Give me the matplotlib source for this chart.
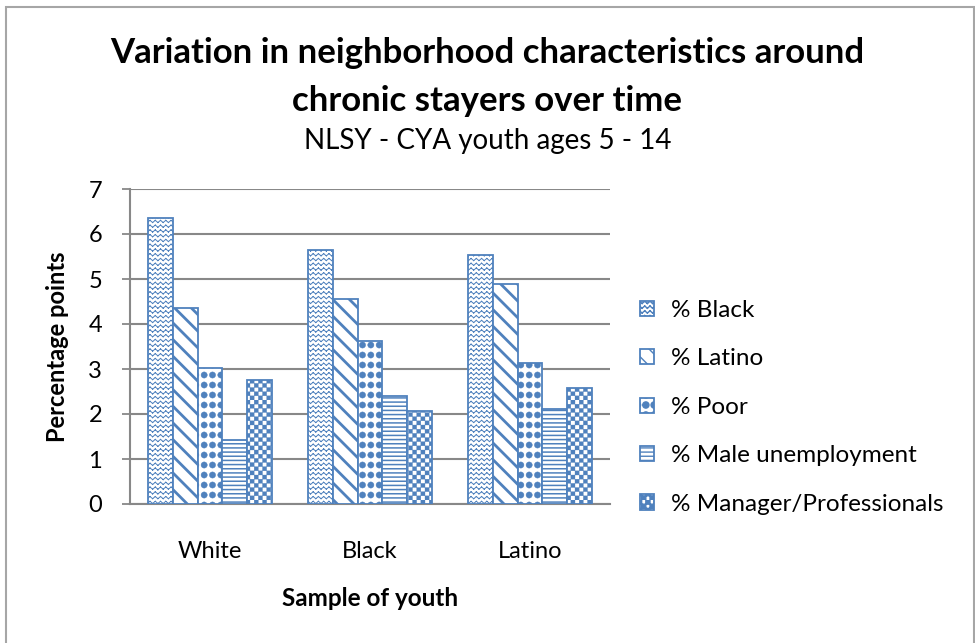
import warnings
import numpy as np
import matplotlib
matplotlib.use("Agg")
import matplotlib.pyplot as plt
import matplotlib.hatch as mhatch
from matplotlib.path import Path
from matplotlib.patches import Rectangle

warnings.filterwarnings("ignore", message="hatch must consist")

# Data: mean variation (percentage points) by youth sample
samples = ["White", "Black", "Latino"]
series = ["% Black", "% Latino", "% Poor", "% Male unemployment", "% Manager/Professionals"]
pct_black = [6.36, 5.64, 5.53]
pct_latino = [4.36, 4.55, 4.89]
pct_poor = [3.03, 3.62, 3.14]
pct_male_unemp = [1.42, 2.40, 2.11]
pct_manager = [2.76, 2.07, 2.57]
values = [pct_black, pct_latino, pct_poor, pct_male_unemp, pct_manager]

BLUE = "#4F81BD"


# extra fill patterns (zigzag, dots, checkerboard) hooked into matplotlib's hatch machinery
class ZigzagHatch:
    def __init__(self, hatch, density):
        self.rows = 21 if "z" in hatch else 0
        self.waves = 19
        self.num_vertices = self.rows * self.waves * 4

    def set_vertices_and_codes(self, vertices, codes):
        xs = np.linspace(0, 1, 2 * self.waves + 1)
        amp = 0.011
        k = 0
        for i in range(self.rows):
            y0 = (i + 0.5) / self.rows
            ys = y0 + amp * np.where(np.arange(len(xs)) % 2 == 0, -1, 1)
            for j in range(len(xs) - 1):
                vertices[k] = xs[j], ys[j]
                vertices[k + 1] = xs[j + 1], ys[j + 1]
                codes[k] = Path.MOVETO
                codes[k + 1] = Path.LINETO
                k += 2


class DotHatch:
    def __init__(self, hatch, density):
        self.circle = Path.unit_circle()
        self.cols, self.rows = (12, 10) if "p" in hatch else (0, 0)
        self.num_vertices = self.cols * self.rows * len(self.circle.vertices)

    def set_vertices_and_codes(self, vertices, codes):
        n = len(self.circle.vertices)
        k = 0
        for i in range(self.rows):
            for j in range(self.cols):
                cx = (j + 0.5) / self.cols
                cy = (i + 0.5) / self.rows
                vertices[k:k + n] = self.circle.vertices * 0.031 + (cx, cy)
                codes[k:k + n] = self.circle.codes
                k += n


class CheckerHatch:
    def __init__(self, hatch, density):
        self.n = 24 if "c" in hatch else 0
        self.num_vertices = self.n * self.n // 2 * 5

    def set_vertices_and_codes(self, vertices, codes):
        s = 1.0 / self.n
        k = 0
        for i in range(self.n):
            for j in range(self.n):
                if (i + j) % 2:
                    continue
                x, y = j * s, i * s
                vertices[k:k + 5] = [(x, y), (x + s, y), (x + s, y + s), (x, y + s), (x, y)]
                codes[k:k + 5] = [Path.MOVETO, Path.LINETO, Path.LINETO, Path.LINETO, Path.CLOSEPOLY]
                k += 5


mhatch._hatch_types.extend([ZigzagHatch, DotHatch, CheckerHatch])

hatches = ["z", "\\\\", "p", "----", "c"]
hatch_lw = [0.7, 2.0, 0.3, 1.1, 0.2]

plt.rcParams["font.family"] = ["Lato", "DejaVu Sans"]

fig = plt.figure(figsize=(9.75, 6.43), dpi=100)
ax = fig.add_axes([130 / 975, 1 - 504 / 643, 480 / 975, 315 / 643])

x = np.arange(len(samples))
width = 0.156
for i, (name, vals) in enumerate(zip(series, values)):
    with plt.rc_context({"hatch.linewidth": hatch_lw[i], "hatch.color": BLUE}):
        ax.bar(x + (i - 2) * width, vals, width, label=name, facecolor="white",
               edgecolor=BLUE, linewidth=1.3, hatch=hatches[i], zorder=3)

ax.set_xlim(-0.5, 2.5)
ax.set_ylim(0, 7)
ax.set_yticks(range(0, 8))
ax.set_xticks(x)
ax.set_xticklabels(samples)
ax.tick_params(axis="y", length=6, width=1.3, color="#888888", labelsize=17, pad=14)
ax.tick_params(axis="x", length=0, labelsize=17, pad=27)
ax.grid(axis="y", color="#888888", linewidth=1.5, zorder=0)
for side in ["top", "right"]:
    ax.spines[side].set_visible(False)
for side in ["left", "bottom"]:
    ax.spines[side].set_color("#888888")
    ax.spines[side].set_linewidth(1.5)

ax.set_ylabel("Percentage points", fontsize=17, fontweight="bold", labelpad=14)
ax.set_xlabel("Sample of youth", fontsize=17.5, fontweight="bold", labelpad=18)

fig.text(0.5, 1 - 53 / 643, "Variation in neighborhood characteristics around",
         ha="center", va="center", fontsize=25, fontweight="bold")
fig.text(0.5, 1 - 101 / 643, "chronic stayers over time",
         ha="center", va="center", fontsize=25, fontweight="bold")
fig.text(0.5, 1 - 141 / 643, "NLSY - CYA youth ages 5 - 14",
         ha="center", va="center", fontsize=20)

ax.legend(loc="upper left", bbox_to_anchor=(618 / 975, 1 - 278 / 643),
          bbox_transform=fig.transFigure, frameon=False, fontsize=17.5,
          handlelength=0.6, handleheight=0.6, handletextpad=0.7, labelspacing=1.13)

# outer frame
fig.add_artist(Rectangle((6 / 975, -0.1), 968 / 975, 1.1 - 7 / 643,
                         transform=fig.transFigure, fill=False,
                         edgecolor="#a6a6a6", linewidth=1.5))

fig.savefig("out.png", dpi=100)
